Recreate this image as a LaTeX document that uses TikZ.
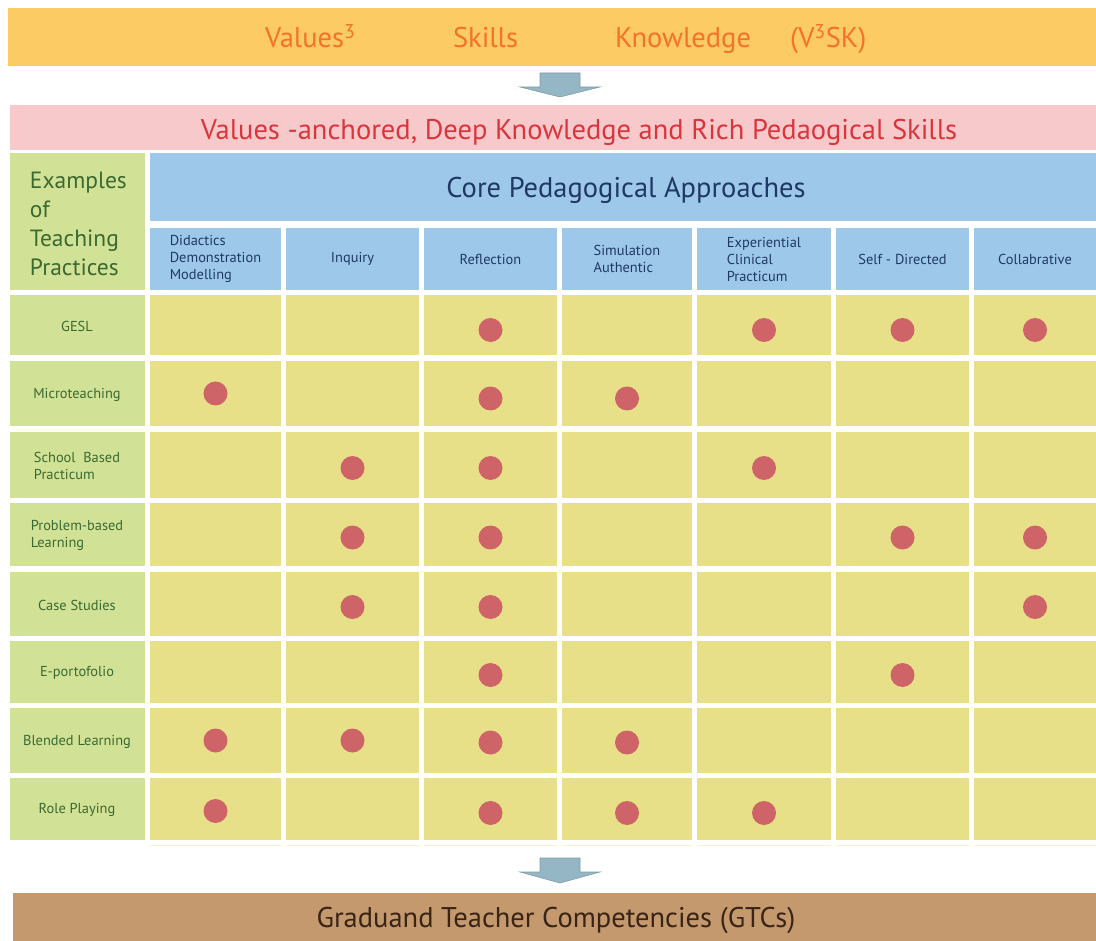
\documentclass[tikz,border=0pt]{standalone}
\usepackage{fontspec}
\setmainfont{PT Sans}
\usepackage{xcolor}

\definecolor{topband}{HTML}{FCCB64}
\definecolor{toptext}{HTML}{F4722A}
\definecolor{pinkband}{HTML}{F8C9CB}
\definecolor{pinktext}{HTML}{D8363D}
\definecolor{leafgreen}{HTML}{D1E196}
\definecolor{leaftext}{HTML}{3B6A30}
\definecolor{skyblue}{HTML}{9EC8E9}
\definecolor{navytext}{HTML}{1F3966}
\definecolor{cellyellow}{HTML}{E7E088}
\definecolor{dotred}{HTML}{CE6468}
\definecolor{arrowfill}{HTML}{95B6C4}
\definecolor{arrowline}{HTML}{7E9CA9}
\definecolor{brownband}{HTML}{C3996D}
\definecolor{browntext}{HTML}{3A2416}

\newcommand{\bigtext}{\fontsize{28.5}{32}\selectfont}
\newcommand{\smalltext}{\fontsize{14.4}{17}\selectfont}

\begin{document}
\begin{tikzpicture}[x=1pt, y=-1pt,
    band/.style={inner sep=0pt, outer sep=0pt},
    cell/.style={fill=cellyellow, inner sep=0pt, outer sep=0pt},
    headcell/.style={fill=skyblue, inner sep=0pt, outer sep=0pt, text=navytext, align=left, font=\smalltext},
    rowlabel/.style={text=leaftext, align=left, font=\smalltext, inner sep=0pt},
    blockarrow/.style={fill=arrowfill, draw=arrowline, line width=0.6pt}]
    \useasboundingbox[fill=white] (0,0) rectangle (1096,941);

    % banners:
    \fill[topband] (8,8) rectangle (1096,66);
    \node[band, text=toptext, font=\bigtext, anchor=base west] (values) at (265,48) {Values\textsuperscript{3}};
    \node[band, text=toptext, font=\bigtext, anchor=base west] (skills) at (453,48) {Skills};
    \node[band, text=toptext, font=\bigtext, anchor=base west] (knowledge) at (615,48) {Knowledge};
    \node[band, text=toptext, font=\bigtext, anchor=base west] (vsk) at (790,48) {(V\textsuperscript{3}SK)};
    \fill[blockarrow] (540,73) -- (580,73) -- (580,87) -- (600,87) -- (560,97) -- (520,87) -- (540,87) -- cycle;

    \fill[pinkband] (10,105) rectangle (1096,150);
    \node[band, text=pinktext, font=\bigtext] (anchored) at (579,132) {Values -anchored, Deep Knowledge and Rich Pedaogical Skills};

    % header:
    \fill[leafgreen] (10,153) rectangle (145,290);
    \node[band, text=leaftext, font=\fontsize{23.5}{29}\selectfont, text width=115pt, align=left, anchor=west] (examples) at (30,224) {Examples\\of\\Teaching\\Practices};
    \fill[skyblue] (150,153) rectangle (1096,221);
    \node[band, text=navytext, font=\bigtext] (core) at (626,190) {Core Pedagogical Approaches};

    \foreach \xl/\xr/\txt [count=\c] in {150/281/{Didactics\\Demonstration\\Modelling}, 286/419/Inquiry, 424/557/Reflection, 562/692/{Simulation\\Authentic}, 697/831/{Experiential\\Clinical\\Practicum}, 836/969/Self - Directed, 974/1096/Collabrative}
        \node[headcell, minimum width={\xr-\xl}, minimum height=62pt] (h\c) at ({(\xl+\xr)/2},259) {\txt};

    % rows:
    \foreach \yt/\yb/\txt [count=\r] in {295/355/GESL, 361/426/Microteaching, 432/498/{School~ Based\\Practicum}, 503/566/{Problem-based\\Learning}, 572/636/Case Studies, 641/703/E-portofolio, 708/773/Blended Learning, 778/840/Role Playing} {
        \fill[leafgreen] (10,\yt) rectangle (145,\yb);
        \node[rowlabel] (p\r) at (77,{(\yt+\yb)/2+1}) {\txt};
        \foreach \xl/\xr [count=\c] in {150/281, 286/419, 424/557, 562/692, 697/831, 836/969, 974/1096}
            \node[cell, minimum width={\xr-\xl}, minimum height={\yb-\yt}] (c\r-\c) at ({(\xl+\xr)/2},{(\yt+\yb)/2}) {};
    }
    \foreach \xl/\xr in {150/281, 286/419, 424/557, 562/692, 697/831, 836/969, 974/1096}
        \fill[cellyellow!40] (\xl,845) rectangle (\xr,846);

    % dots:
    \foreach \r/\c/\dy in {1/3/5,1/5/5,1/6/5,1/7/5, 2/1/0,2/3/5,2/4/5, 3/2/3,3/3/3,3/5/3, 4/2/3,4/3/3,4/6/3,4/7/3, 5/2/3,5/3/3,5/7/3, 6/3/3,6/6/3, 7/1/0,7/2/0,7/3/2,7/4/2, 8/1/2,8/3/4,8/4/4,8/5/4}
        \fill[dotred] ([yshift=-\dy pt]c\r-\c.center) circle (12pt);

    % result:
    \fill[blockarrow] (540,858) -- (580,858) -- (580,872) -- (600,872) -- (560,883) -- (520,872) -- (540,872) -- cycle;
    \fill[brownband] (13,893) rectangle (1096,941);
    \node[band, text=browntext, font=\bigtext] (gtc) at (556,920) {Graduand Teacher Competencies (GTCs)};
\end{tikzpicture}
\end{document}
